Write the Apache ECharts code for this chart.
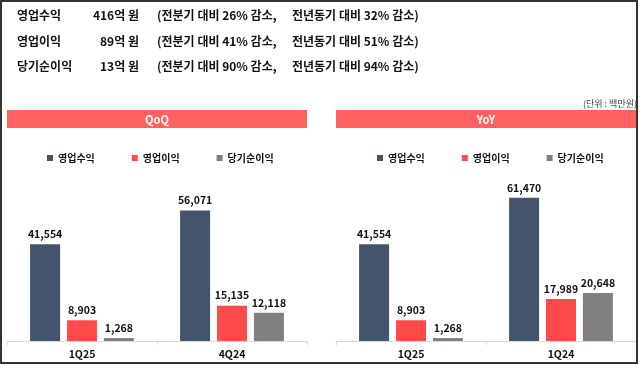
<!DOCTYPE html>
<html><head><meta charset="utf-8">
<script src="https://cdn.jsdelivr.net/npm/echarts@6/dist/echarts.min.js"></script>
<style>html,body{margin:0;padding:0;background:#fff;}#c{width:640px;height:365px;}</style>
</head><body><div id="c"></div>
<script>
// ---- data ----
const seriesNames = ['영업수익', '영업이익', '당기순이익'];
const qoqCategories = ['1Q25', '4Q24'];
const qoqRevenue = [41554, 56071];
const qoqOperating = [8903, 15135];
const qoqNet = [1268, 12118];
const yoyCategories = ['1Q25', '1Q24'];
const yoyRevenue = [41554, 61470];
const yoyOperating = [8903, 17989];
const yoyNet = [1268, 20648];
const summaryLabels = ['영업수익', '영업이익', '당기순이익'];
const summaryAmounts = ['416억 원', '89억 원', '13억 원'];
const summaryQoQ = ['(전분기 대비 26% 감소,', '(전분기 대비 41% 감소,', '(전분기 대비 90% 감소,'];
const summaryYoY = ['전년동기 대비 32% 감소)', '전년동기 대비 51% 감소)', '전년동기 대비 94% 감소)'];
const panelTitles = ['QoQ', 'YoY'];
const unitText = '(단위 : 백만원)';

const FONT = '"Noto Sans CJK KR", "Noto Sans", sans-serif';
const colors = ['#44546A', '#FF4B4B', '#808080'];
const bannerColor = '#FF6060';
const fmt = v => String(v).replace(/\B(?=(\d{3})+(?!\d))/g, ',');

const chart = echarts.init(document.getElementById('c'), null, {renderer: 'canvas'});

const graphics = [];
const rowY = [15, 41, 66];
for (let i = 0; i < 3; i++) {
  const base = {fill: '#111', font: 'bold 12px ' + FONT, textVerticalAlign: 'middle'};
  graphics.push({type: 'text', x: 17, y: rowY[i], style: Object.assign({}, base, {text: summaryLabels[i], textAlign: 'left'})});
  graphics.push({type: 'text', x: 139, y: rowY[i], style: Object.assign({}, base, {text: summaryAmounts[i], textAlign: 'right'})});
  graphics.push({type: 'text', x: 157, y: rowY[i], style: Object.assign({}, base, {text: summaryQoQ[i], textAlign: 'left'})});
  graphics.push({type: 'text', x: 292, y: rowY[i], style: Object.assign({}, base, {text: summaryYoY[i], textAlign: 'left'})});
}
// unit
graphics.push({type: 'text', x: 637, y: 104, style: {text: unitText, fill: '#444', font: '9px ' + FONT, textAlign: 'right', textVerticalAlign: 'middle'}});
// banners
const bannerX = [7, 336];
for (let i = 0; i < 2; i++) {
  graphics.push({type: 'rect', shape: {x: bannerX[i], y: 110, width: 300, height: 18}, style: {fill: bannerColor}});
  graphics.push({type: 'text', x: bannerX[i] + 150, y: 119.5, style: {text: panelTitles[i], fill: '#fff', font: 'bold 11px ' + FONT, textAlign: 'center', textVerticalAlign: 'middle'}});
}
// frame
graphics.push({type: 'rect', shape: {x: 1, y: 1, width: 636, height: 362}, style: {fill: null, stroke: '#333', lineWidth: 2}, z: 100});

function bars(gridIdx, arrs) {
  return arrs.map((d, k) => ({
    type: 'bar', name: seriesNames[k], xAxisIndex: gridIdx, yAxisIndex: gridIdx,
    data: d, barWidth: 30, barGap: '23%',
    itemStyle: {color: colors[k]},
    label: {show: true, position: 'top', distance: 5, color: '#111', fontFamily: FONT, fontWeight: 'bold', fontSize: 10.5, formatter: p => fmt(p.value)}
  }));
}

const legendBase = {
  icon: 'rect', itemWidth: 6, itemHeight: 6, itemGap: 37, top: 153, padding: 0, selectedMode: false,
  textStyle: {fontFamily: FONT, fontWeight: 'bold', fontSize: 10, color: '#111'},
  data: seriesNames.map((n, k) => ({name: n, itemStyle: {color: colors[k]}}))
};

const xBase = {
  type: 'category',
  axisLine: {lineStyle: {color: '#d9d9d9', width: 1}},
  axisTick: {show: true, length: 4, lineStyle: {color: '#d9d9d9'}},
  axisLabel: {color: '#111', fontFamily: FONT, fontWeight: 'bold', fontSize: 10.5, margin: 8}
};
const yBase = {type: 'value', min: 0, max: 70000, show: false, splitLine: {show: false}};

chart.setOption({
  animation: false,
  backgroundColor: '#fff',
  legend: [Object.assign({}, legendBase, {left: 47}), Object.assign({}, legendBase, {left: 377})],
  grid: [{left: 7, width: 300, top: 178, height: 163}, {left: 336, width: 300, top: 178, height: 163}],
  xAxis: [Object.assign({}, xBase, {gridIndex: 0, data: qoqCategories}), Object.assign({}, xBase, {gridIndex: 1, data: yoyCategories})],
  yAxis: [Object.assign({}, yBase, {gridIndex: 0}), Object.assign({}, yBase, {gridIndex: 1})],
  series: bars(0, [qoqRevenue, qoqOperating, qoqNet]).concat(bars(1, [yoyRevenue, yoyOperating, yoyNet])),
  graphic: graphics
});
</script></body></html>
